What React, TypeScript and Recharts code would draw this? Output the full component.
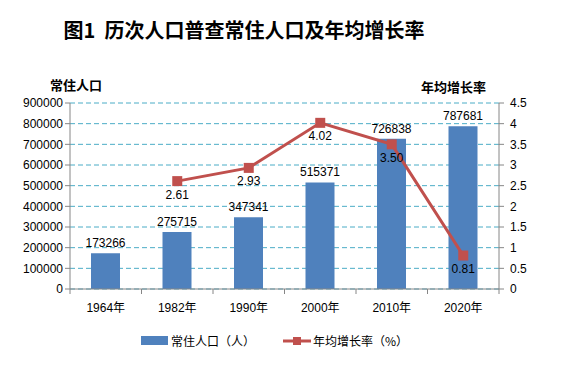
import React from "react";
import {
  ComposedChart,
  Bar,
  Line,
  CartesianGrid,
  XAxis,
  YAxis,
  LabelList,
  Legend,
} from "recharts";

const years = ["1964年", "1982年", "1990年", "2000年", "2010年", "2020年"];
const population = [173266, 275715, 347341, 515371, 726838, 787681];
const growthRate = [null, 2.61, 2.93, 4.02, 3.5, 0.81];
const leftTicks = [0, 100000, 200000, 300000, 400000, 500000, 600000, 700000, 800000, 900000];
const rightTicks = [0, 0.5, 1, 1.5, 2, 2.5, 3, 3.5, 4, 4.5];

const data = years.map((name, i) => ({
  name,
  pop: population[i],
  rate: growthRate[i],
}));

const BLUE = "#4f81bd";
const RED = "#c0504d";
const AXIS = "#868686";
const FONT = "'Liberation Sans', Arial, sans-serif";
const CJK = "'Noto Sans CJK SC', sans-serif";
const HALF_BAND = 35.75;

const XTick = (props: any) => {
  const { x, y, payload, index } = props;
  return (
    <g>
      <line x1={x - HALF_BAND} y1={y - 8} x2={x - HALF_BAND} y2={y - 3} stroke={AXIS} />
      {index === years.length - 1 && (
        <line x1={x + HALF_BAND} y1={y - 8} x2={x + HALF_BAND} y2={y - 3} stroke={AXIS} />
      )}
      <text x={x} y={y + 15} textAnchor="middle" fontSize={12} fill="#000" fontFamily={FONT}>
        {String(payload.value).replace("年", "")}
        <tspan fontFamily={CJK}>年</tspan>
      </text>
    </g>
  );
};

const SquareDot = (props: any) => {
  const { cx, cy, value } = props;
  if (value == null || cx == null || cy == null) return <g />;
  return <rect x={cx - 5} y={cy - 5} width={10} height={10} fill={RED} />;
};

const LegendContent = () => (
  <div
    style={{
      display: "flex",
      justifyContent: "center",
      alignItems: "center",
      fontFamily: CJK,
      fontSize: 12,
      color: "#000",
      paddingRight: 16,
    }}
  >
    <span style={{ display: "inline-block", width: 27, height: 9, background: BLUE, marginRight: 3 }} />
    <span style={{ marginRight: 28 }}>常住人口（人）</span>
    <svg width={28} height={10} style={{ marginRight: 2 }}>
      <line x1={0} y1={5} x2={28} y2={5} stroke={RED} strokeWidth={3} />
      <rect x={10} y={1} width={8} height={8} fill={RED} />
    </svg>
    <span>年均增长率（%）</span>
  </div>
);

export default function App() {
  return (
    <div style={{ position: "absolute", left: 0, top: 0, width: 565, height: 382, background: "#fff" }}>
      <div
        style={{
          position: "absolute",
          left: 0,
          top: 16,
          width: 488,
          textAlign: "center",
          fontFamily: "'Noto Sans CJK SC', serif",
          fontWeight: 700,
          fontSize: 20,
          lineHeight: "28px",
          color: "#000",
        }}
      >
        图1&nbsp;&nbsp;历次人口普查常住人口及年均增长率
      </div>
      <div
        style={{
          position: "absolute",
          left: 50,
          top: 75,
          fontFamily: CJK,
          fontWeight: 700,
          fontSize: 13,
          color: "#000",
        }}
      >
        常住人口
      </div>
      <div
        style={{
          position: "absolute",
          left: 421,
          top: 77,
          fontFamily: CJK,
          fontWeight: 700,
          fontSize: 13,
          color: "#000",
        }}
      >
        年均增长率
      </div>
      <ComposedChart
        width={565}
        height={382}
        data={data}
        margin={{ top: 103, right: 0, bottom: 46, left: 0 }}
      >
        <CartesianGrid
          vertical={false}
          stroke="#4bacc6"
          strokeDasharray="5 3"
          yAxisId="left"
        />
        <XAxis
          dataKey="name"
          tickLine={false}
          stroke={AXIS}
          tick={<XTick />}
          height={30}
          interval={0}
        />
        <YAxis
          yAxisId="left"
          width={70}
          domain={[0, 900000]}
          ticks={leftTicks}
          interval={0}
          stroke={AXIS}
          tickSize={5}
          tick={{ fill: "#000", fontSize: 12, fontFamily: FONT }}
          tickMargin={2}
        />
        <YAxis
          yAxisId="right"
          orientation="right"
          width={66}
          domain={[0, 4.5]}
          ticks={rightTicks}
          interval={0}
          stroke={AXIS}
          tickSize={5}
          tick={{ fill: "#000", fontSize: 12, fontFamily: FONT }}
          tickMargin={6}
        />
        <Bar yAxisId="left" dataKey="pop" fill={BLUE} barSize={29} isAnimationActive={false}>
          <LabelList
            dataKey="pop"
            position="top"
            offset={6}
            fill="#000"
            fontSize={12}
            fontFamily={FONT}
          />
        </Bar>
        <Line
          yAxisId="right"
          dataKey="rate"
          stroke={RED}
          strokeWidth={3}
          dot={<SquareDot />}
          activeDot={false}
          connectNulls={false}
          isAnimationActive={false}
        >
          <LabelList
            dataKey="rate"
            position="bottom"
            offset={9}
            fill="#000"
            fontSize={12}
            fontFamily={FONT}
            formatter={(v: any) => (v == null ? "" : Number(v).toFixed(2))}
          />
        </Line>
        <Legend
          verticalAlign="bottom"
          content={<LegendContent />}
          wrapperStyle={{ position: "absolute", top: 332, left: 0, width: 565, bottom: "auto" }}
        />
      </ComposedChart>
    </div>
  );
}
